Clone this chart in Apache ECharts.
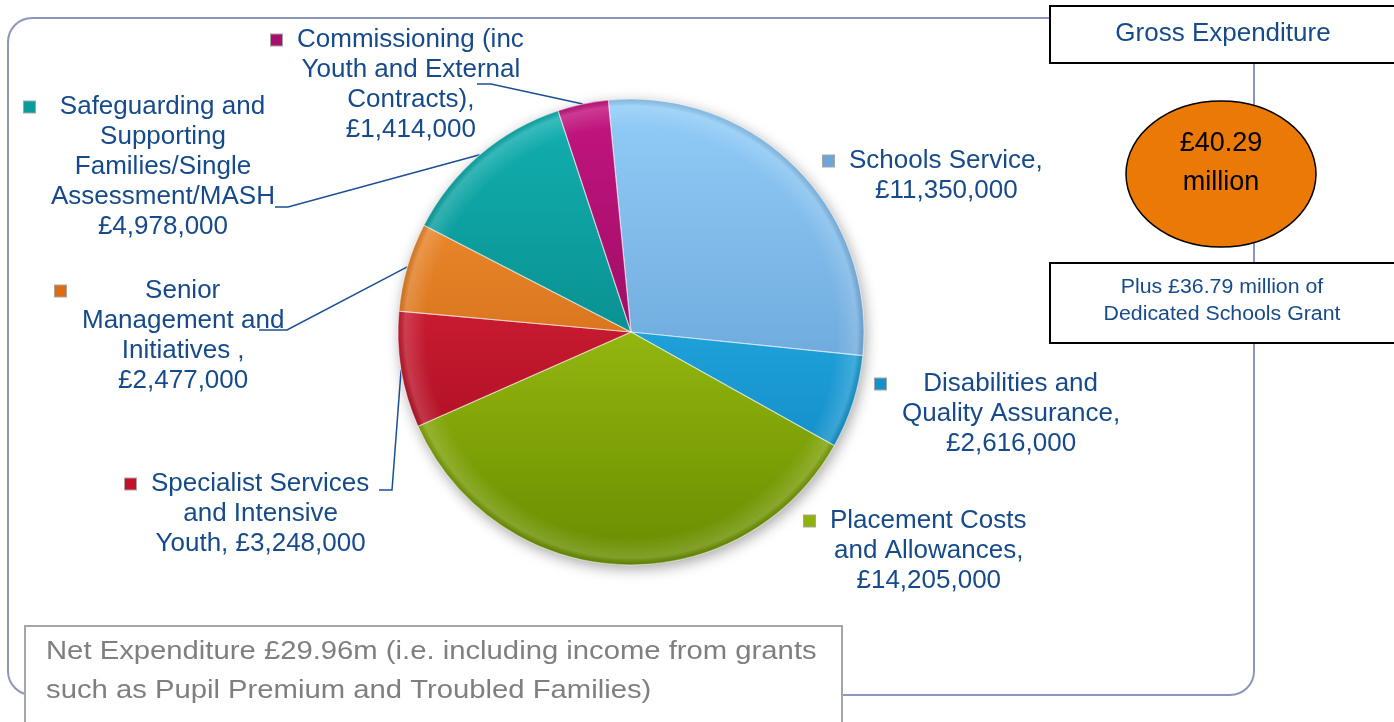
<!DOCTYPE html>
<html>
<head>
<meta charset="utf-8">
<title>Children's Services Gross Expenditure</title>
<script src="https://cdn.jsdelivr.net/npm/echarts@6/dist/echarts.min.js"></script>
<style>
  html, body { margin: 0; padding: 0; background: #ffffff; }
  #chart { width: 1394px; height: 722px; }
</style>
</head>
<body>
<div id="chart"></div>
<script>
// ---- Budget data -------------------------------------------------------
const CATEGORIES = [
  'Schools Service',
  'Disabilities and\nQuality Assurance',
  'Placement Costs\nand Allowances',
  'Specialist Services\nand Intensive\nYouth',
  'Senior\nManagement and\nInitiatives',
  'Safeguarding and\nSupporting\nFamilies/Single\nAssessment/MASH',
  'Commissioning (inc\nYouth and External\nContracts)'
];
const VALUES = [11350000, 2616000, 14205000, 3248000, 2477000, 4978000, 1414000];
// text placed between a category name and its amount
const VALUE_SEPARATORS = [',\n', ',\n', ',\n', ', ', ' ,\n', '\n', ',\n'];

const GROSS_TITLE = 'Gross Expenditure';
const DSG_NOTE = 'Plus £36.79 million of\nDedicated Schools Grant';
const NET_NOTE = 'Net Expenditure £29.96m (i.e. including income from grants\nsuch as Pupil Premium and Troubled Families)';

// ---- Layout and styling ------------------------------------------------
const CX = 631, CY = 332, R = 233;
const START_ANGLE = 95.6;            // degrees, counter-clockwise from 3 o'clock
const FONT = "'Liberation Sans', Arial, Helvetica, sans-serif";
const TEXT_BLUE = '#164a8a';
// light (top of pie) and dark (bottom of pie) shade for every slice
const SLICE_SHADES = [
  ['#92cdf8', '#5490c8'],
  ['#34c3f6', '#0a7fbb'],
  ['#bde01e', '#688c00'],
  ['#ee2c46', '#9a0619'],
  ['#f99a3a', '#bd5203'],
  ['#12b1b1', '#037272'],
  ['#c4157f', '#7a064e']
];
const MARKER_COLORS = ['#6aa7d8', '#178fc9', '#8fb20c', '#c3102b', '#de6d12', '#0d9a9a', '#a80f6c'];
// top-left corner of each label block (legend key sits at the left edge)
const LABEL_ANCHORS = [
  [823, 146], [875, 369], [804, 506], [125, 469], [55, 276], [24, 92], [271, 25]
];
// leader lines: elbow point and tip next to the label (null = no leader)
const LEADER_ENDS = [
  null, null, null,
  [[392, 490], [379, 490]],
  [[287, 330], [259, 330]],
  [[288, 207], [275, 207]],
  [[491, 84], [477, 84]]
];

function money(v) {
  return '£' + String(v).replace(/\B(?=(\d{3})+(?!\d))/g, ',');
}
const total = VALUES.reduce((a, b) => a + b, 0);
const GROSS_TOTAL = '£' + (total / 1e6).toFixed(2) + '\nmillion';

// point on the outer rim at the middle of each slice
const rimMid = (function () {
  const pts = [];
  let acc = 0;
  VALUES.forEach(function (v) {
    const deg = (90 - START_ANGLE) + 360 * (acc + v / 2) / total;   // clockwise from 12 o'clock
    const rad = deg * Math.PI / 180;
    pts.push([CX + R * Math.sin(rad), CY - R * Math.cos(rad)]);
    acc += v;
  });
  return pts;
})();

const rich = {
  g: { width: 15, height: 12, align: 'left', lineHeight: 30 },
  s: { width: 27, height: 12, align: 'left', lineHeight: 30 },
  t: { align: 'center', fontSize: 26, lineHeight: 30, color: TEXT_BLUE, fontFamily: FONT }
};
MARKER_COLORS.forEach(function (c, i) {
  rich['m' + i] = {
    width: 11, height: 11, align: 'left', lineHeight: 30,
    backgroundColor: c, borderColor: 'rgba(0,0,0,0.35)', borderWidth: 1
  };
});

const sliceData = CATEGORIES.map(function (name, i) {
  const item = {
    name: name,
    value: VALUES[i],
    itemStyle: {
      color: new echarts.graphic.LinearGradient(0, CY - R, 0, CY + R, [
        { offset: 0, color: SLICE_SHADES[i][0] },
        { offset: 1, color: SLICE_SHADES[i][1] }
      ], true)
    }
  };
  if (!LEADER_ENDS[i]) item.labelLine = { show: false };
  return item;
});

const plainData = CATEGORIES.map(function (name, i) {
  return { name: name, value: VALUES[i] };
});

const rimGlow = new echarts.graphic.RadialGradient(CX, CY, R, [
  { offset: 0, color: 'rgba(255,255,255,0)' },
  { offset: 0.88, color: 'rgba(255,255,255,0)' },
  { offset: 0.97, color: 'rgba(255,255,255,0.16)' },
  { offset: 1, color: 'rgba(0,0,0,0.10)' }
], true);

const chart = echarts.init(document.getElementById('chart'), null, { renderer: 'canvas' });

chart.setOption({
  animation: false,
  backgroundColor: '#ffffff',
  graphic: {
    elements: [
      { // frame around the chart area
        type: 'rect', z: 0, silent: true,
        shape: { x: 8, y: 18, width: 1246, height: 677, r: 24 },
        style: { fill: 'none', stroke: '#8a96bc', lineWidth: 2 }
      },
      {
        type: 'rect', z: 10, silent: true,
        shape: { x: 1050, y: 6, width: 360, height: 57 },
        style: { fill: '#ffffff', stroke: '#000000', lineWidth: 2 }
      },
      {
        type: 'text', z: 11, silent: true, x: 1223, y: 34,
        style: {
          text: GROSS_TITLE, fill: TEXT_BLUE, font: '26px ' + FONT,
          align: 'center', verticalAlign: 'middle', textAlign: 'center', textVerticalAlign: 'middle'
        }
      },
      {
        type: 'ellipse', z: 10, silent: true,
        shape: { cx: 1221, cy: 174, rx: 95, ry: 73 },
        style: { fill: '#eb7905', stroke: '#000000', lineWidth: 1.5 }
      },
      {
        type: 'text', z: 11, silent: true, x: 1221, y: 163,
        style: {
          text: GROSS_TOTAL, fill: '#000000', font: '27px ' + FONT, lineHeight: 39,
          align: 'center', verticalAlign: 'middle', textAlign: 'center', textVerticalAlign: 'middle'
        }
      },
      {
        type: 'rect', z: 10, silent: true,
        shape: { x: 1050, y: 263, width: 360, height: 80 },
        style: { fill: '#ffffff', stroke: '#000000', lineWidth: 2 }
      },
      {
        type: 'text', z: 11, silent: true, x: 1222, y: 301, scaleX: 1.065,
        style: {
          text: DSG_NOTE, fill: TEXT_BLUE, font: '20px ' + FONT, lineHeight: 27,
          align: 'center', verticalAlign: 'middle', textAlign: 'center', textVerticalAlign: 'middle'
        }
      },
      {
        type: 'rect', z: 10, silent: true,
        shape: { x: 25, y: 626, width: 817, height: 120 },
        style: { fill: '#ffffff', stroke: '#a5a5a5', lineWidth: 2 }
      },
      {
        type: 'text', z: 11, silent: true, x: 46, y: 633, scaleX: 1.17,
        style: {
          text: NET_NOTE, fill: '#7f7f7f', font: '25px ' + FONT, lineHeight: 39,
          align: 'left', verticalAlign: 'top', textAlign: 'left', textVerticalAlign: 'top'
        }
      }
    ]
  },
  series: [
    { // soft drop shadow under the pie
      type: 'pie', z: 1, silent: true,
      center: [CX, CY], radius: R, startAngle: START_ANGLE, clockwise: true,
      label: { show: false }, labelLine: { show: false },
      itemStyle: {
        color: '#ffffff', shadowBlur: 14, shadowColor: 'rgba(0,0,0,0.35)',
        shadowOffsetX: 2, shadowOffsetY: 4
      },
      data: plainData
    },
    {
      type: 'pie', z: 2, silent: true,
      center: [CX, CY], radius: R, startAngle: START_ANGLE, clockwise: true,
      avoidLabelOverlap: false,
      itemStyle: { borderColor: 'rgba(255,255,255,0.4)', borderWidth: 1.2 },
      label: {
        show: true, position: 'outside',
        fontFamily: FONT, fontSize: 26, lineHeight: 30, color: TEXT_BLUE,
        formatter: function (p) {
          const i = p.dataIndex;
          const lines = (CATEGORIES[i] + VALUE_SEPARATORS[i] + money(VALUES[i])).split('\n');
          return lines.map(function (ln, k) {
            return (k === 0 ? '{m' + i + '|}{g|}' : '{s|}') + '{t|' + ln + '}';
          }).join('\n');
        },
        rich: rich
      },
      labelLine: {
        show: true, length: 10, length2: 10, smooth: false,
        lineStyle: { color: '#1b4f95', width: 1.5 }
      },
      labelLayout: function (p) {
        const i = p.dataIndex;
        const a = LABEL_ANCHORS[i];
        const out = { x: a[0], y: a[1], align: 'left', verticalAlign: 'top' };
        if (LEADER_ENDS[i]) {
          out.labelLinePoints = [rimMid[i], LEADER_ENDS[i][0], LEADER_ENDS[i][1]];
        }
        return out;
      },
      data: sliceData
    },
    { // bevel glow along the rim
      type: 'pie', z: 3, silent: true,
      center: [CX, CY], radius: R, startAngle: START_ANGLE, clockwise: true,
      label: { show: false }, labelLine: { show: false },
      itemStyle: { color: rimGlow, borderColor: 'rgba(255,255,255,0.18)', borderWidth: 1 },
      data: plainData
    }
  ]
});
</script>
</body>
</html>
